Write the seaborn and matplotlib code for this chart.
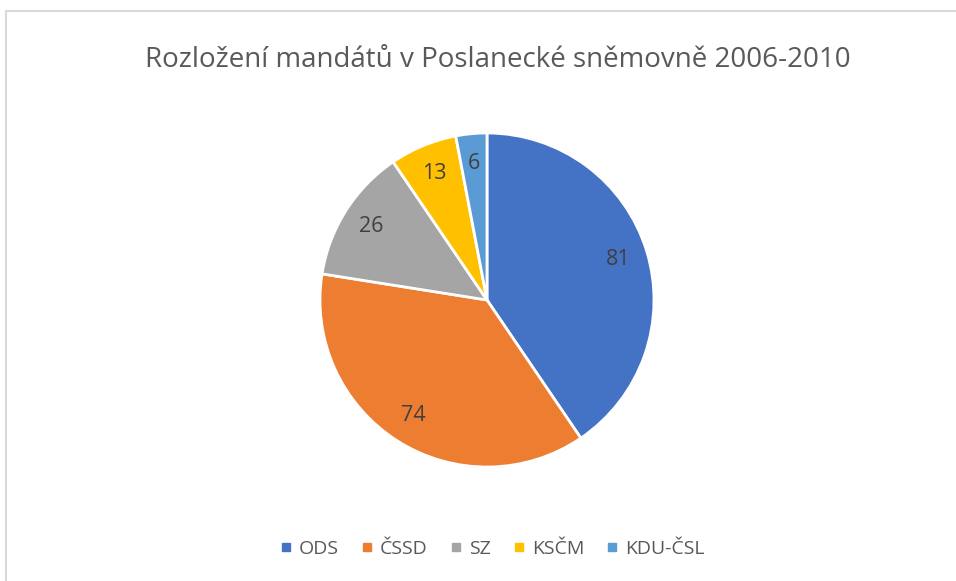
import matplotlib
matplotlib.use("Agg")
from matplotlib import pyplot as plt
from matplotlib.lines import Line2D
import seaborn as sns

parties = ["ODS", "ČSSD", "SZ", "KSČM", "KDU-ČSL"]
seats = [81, 74, 26, 13, 6]
colors = ["#4472C4", "#ED7D31", "#A5A5A5", "#FFC000", "#5B9BD5"]

sns.set_theme(style="white")
plt.rcParams['font.family'] = ['Open Sans', 'DejaVu Sans']

fig = plt.figure(figsize=(9.56, 5.81), dpi=100)

# pie axes placed so the circle sits where it does in the reference
ax = fig.add_axes([0.3347, 0.1962, 0.3494, 0.5749])
total = sum(seats)
wedges, _, autotexts = ax.pie(
    seats, colors=colors, startangle=90, counterclock=False,
    autopct=lambda p: f"{round(p * total / 100):d}", pctdistance=0.82,
    wedgeprops=dict(edgecolor="white", linewidth=2),
    textprops=dict(color="#404040", fontsize=15.5),
)
ax.set_xlim(-1.0, 1.0)
ax.set_ylim(-1.0, 1.0)
ax.set_aspect("equal")

fig.text(497.5 / 956, 1 - 67 / 581, "Rozložení mandátů v Poslanecké sněmovně 2006-2010",
         ha="center", va="baseline", fontsize=20, color="#595959")

handles = [Line2D([], [], marker="s", linestyle="none", markersize=5.8,
                  markerfacecolor=c, markeredgecolor=c) for c in colors]
fig.legend(handles, parties, loc="center", bbox_to_anchor=(492.5 / 956, 1 - 549 / 581),
           ncol=5, frameon=False, fontsize=14, handlelength=0.6,
           handletextpad=0.37, columnspacing=1.14, labelcolor="#595959",
           borderpad=0, borderaxespad=0)

# light chart-area border (top and left edges visible in the crop)
fig.add_artist(Line2D([6 / 956, 1.0], [1 - 11 / 581, 1 - 11 / 581],
                      color="#D9D9D9", linewidth=1.5))
fig.add_artist(Line2D([6 / 956, 6 / 956], [0.0, 1 - 11 / 581],
                      color="#D9D9D9", linewidth=1.5))

plt.savefig("out.png", dpi=100)
